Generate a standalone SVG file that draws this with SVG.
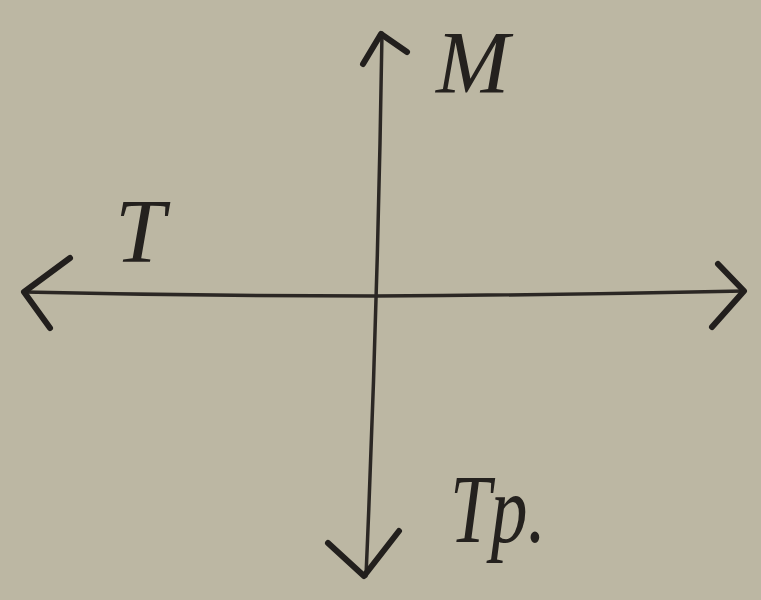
<svg xmlns="http://www.w3.org/2000/svg" width="761" height="600" viewBox="0 0 761 600">
<style>
.ax{fill:none;stroke:#2b2724;stroke-width:3.5;stroke-linecap:round;stroke-linejoin:round}
.hd{fill:none;stroke:#221f1d;stroke-width:6;stroke-linecap:round;stroke-linejoin:round}
.lb{font-family:"Liberation Serif",serif;font-style:italic;fill:#24211e}
</style>
<rect width="761" height="600" fill="#bcb7a3"/>
<g id="connectors">
<path class="ax" d="M24,292 Q200,296 375,296 Q560,295 744,291"/>
<path class="ax" d="M382,33 Q378,300 366,576"/>
<path class="hd" d="M70,258 L24,292 L50,328"/>
<path class="hd" d="M718,264 L744,291 L712,327"/>
<path class="hd" d="M363,64 L381,34 L407,52"/>
<path class="hd" d="M328,543 L364,576 L399,531"/>
</g>
<g id="M"><text class="lb" x="436" y="92" font-size="88">M</text></g>
<g id="T"><text class="lb" x="115" y="262" font-size="90">T</text></g>
<g id="Tp"><text class="lb" x="450" y="542" font-size="98" textLength="96" lengthAdjust="spacingAndGlyphs">Tp.</text></g>
</svg>
